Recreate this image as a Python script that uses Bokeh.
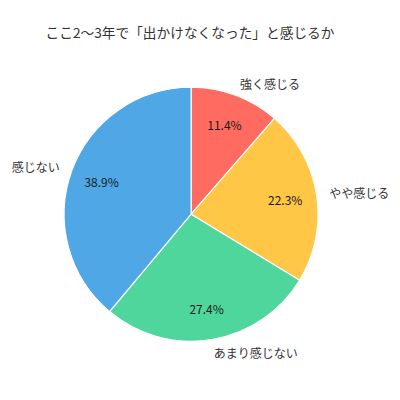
import math
from bokeh.plotting import figure
from bokeh.models import Range1d
from bokeh.core.properties import value
from bokeh.embed import file_html
from bokeh.resources import INLINE

title = "ここ2〜3年で「出かけなくなった」と感じるか"
categories = ["強く感じる", "やや感じる", "あまり感じない", "感じない"]
values = [11.4, 22.3, 27.4, 38.9]
colors = ["#FF6B61", "#FFC745", "#4FD69C", "#4FA7E6"]

FONT = "Noto Sans CJK JP"
W, H = 392, 384
# data coords: x = image px, y = 400 - image px
cx, cy = 190.6, 400 - 213.7
R = 127.0

p = figure(width=W, height=H, output_backend="svg", toolbar_location=None,
           x_range=Range1d(0, 392), y_range=Range1d(16, 400), min_border=0)
p.axis.visible = False
p.grid.visible = False
p.outline_line_color = None
p.background_fill_color = "white"
p.border_fill_color = "white"

total = sum(values)
cum = 0.0
starts, ends, mids = [], [], []
for v in values:
    a0 = math.pi / 2 - 2 * math.pi * cum / total
    cum += v
    a1 = math.pi / 2 - 2 * math.pi * cum / total
    starts.append(a1)
    ends.append(a0)
    mids.append((a0 + a1) / 2)

p.wedge(x=[cx] * len(values), y=[cy] * len(values), radius=R,
        start_angle=starts, end_angle=ends, direction="anticlock",
        fill_color=colors, line_color="white", line_width=1.2)

# percentage labels
pr = 0.75 * R
px = [cx + pr * math.cos(m) for m in mids]
py = [cy + pr * math.sin(m) for m in mids]
p.text(x=px, y=py, text=[f"{v:.1f}%" for v in values],
       text_font=value(FONT), text_font_size="12px", text_color="#1a1a1a",
       text_align="center", text_baseline="middle")

# category labels
lr = 1.1 * R
for cat, m in zip(categories, mids):
    x = cx + lr * math.cos(m)
    y = cy + lr * math.sin(m)
    align = "left" if math.cos(m) >= 0 else "right"
    p.text(x=[x], y=[y], text=[cat], text_font=value(FONT),
           text_font_size="12px", text_color="#333333",
           text_align=align, text_baseline="middle")

p.text(x=[189.5], y=[400 - 31.5], text=[title], text_font=value(FONT),
       text_font_size="13.7px", text_color="#333333",
       text_align="center", text_baseline="middle")

open("out.html", "w").write(file_html(p, INLINE))
